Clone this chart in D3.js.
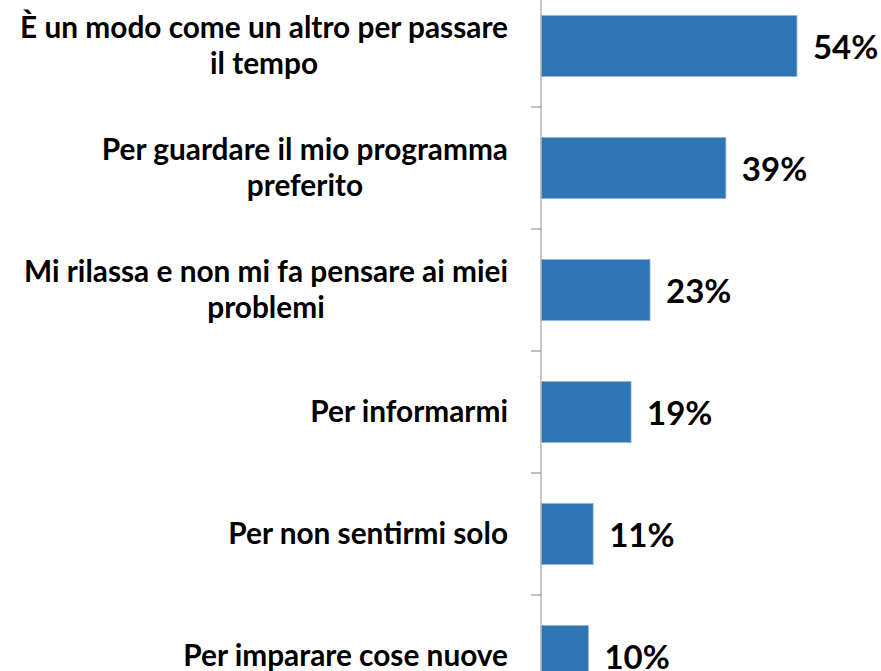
<!DOCTYPE html>
<html>
<head>
<meta charset="utf-8">
<script src="https://cdn.jsdelivr.net/npm/d3@7"></script>
<style>
  html, body { margin: 0; padding: 0; background: #fff; }
  svg { display: block; }
</style>
</head>
<body>
<div id="chart"></div>
<script>
/* ── data ───────────────────────────────────── */
const categories = [
  ['È un modo come un altro per passare', 'il tempo'],
  ['Per guardare il mio programma', 'preferito'],
  ['Mi rilassa e non mi fa pensare ai miei', 'problemi'],
  ['Per informarmi'],
  ['Per non sentirmi solo'],
  ['Per imparare cose nuove'],
];
const values = [54, 39, 23, 19, 11, 10];

/* ── layout ─────────────────────────────────── */
const W = 881, H = 671;
const axisX   = 541;
const step    = 122;
const top0    = -15;            // first band starts above the frame
const FONT    = 'Lato, Calibri, "Open Sans", sans-serif';

const svg = d3.select('#chart').append('svg')
  .attr('width', W).attr('height', H);

const ids = categories.map((_, i) => i);

const y = d3.scaleBand()
  .domain(ids)
  .range([top0, top0 + step * ids.length])
  .paddingInner(0.5)
  .paddingOuter(0.25);

const x = d3.scaleLinear()
  .domain([0, 60])
  .range([axisX, axisX + 284.4]);

/* bars */
svg.append('g').selectAll('rect')
  .data(values).join('rect')
  .attr('x', x(0))
  .attr('y', (d, i) => y(i))
  .attr('width', d => x(d) - x(0))
  .attr('height', y.bandwidth())
  .attr('fill', '#2e75b6')
  .attr('stroke', '#8fb4de')
  .attr('stroke-width', 0.8);

/* axis line + tick marks between bands */
svg.append('line')
  .attr('x1', axisX).attr('x2', axisX)
  .attr('y1', 0).attr('y2', H)
  .attr('stroke', '#b3b3b3').attr('stroke-width', 1.5);

const boundaries = ids.slice(1).map(i => y(i) - y.step() * y.paddingInner() / 2);
svg.append('g').selectAll('line')
  .data(boundaries).join('line')
  .attr('x1', axisX - 10).attr('x2', axisX)
  .attr('y1', d => d).attr('y2', d => d)
  .attr('stroke', '#808080').attr('stroke-width', 1);

/* category labels */
const lineH = 36;
const lab = svg.append('g').selectAll('text')
  .data(categories).join('text')
  .attr('text-anchor', 'middle')
  .attr('font-family', FONT)
  .attr('font-weight', 700)
  .attr('font-size', 29.8)
  .attr('fill', '#000');

lab.each(function (lines, i) {
  const cy = y(i) + y.bandwidth() / 2;
  const t = d3.select(this);
  lines.forEach((ln, k) => {
    t.append('tspan')
      .attr('y', cy + (k - (lines.length - 1) / 2) * lineH)
      .attr('dy', '0.33em')
      .text(ln);
  });
});

// centre the lines of each label over their block, right edge at 508
lab.each(function () {
  const t = d3.select(this);
  const spans = t.selectAll('tspan').nodes();
  const widths = spans.map(s => s.getComputedTextLength());
  const maxW = d3.max(widths);
  spans.forEach(s => d3.select(s).attr('x', 508 - maxW / 2));
});

/* value labels */
svg.append('g').selectAll('text')
  .data(values).join('text')
  .attr('x', d => x(d) + 16)
  .attr('y', (d, i) => y(i) + y.bandwidth() / 2)
  .attr('dy', '0.39em')
  .attr('font-family', FONT)
  .attr('font-weight', 700)
  .attr('font-size', 33)
  .attr('fill', '#000')
  .text(d => d + '%');
</script>
</body>
</html>
